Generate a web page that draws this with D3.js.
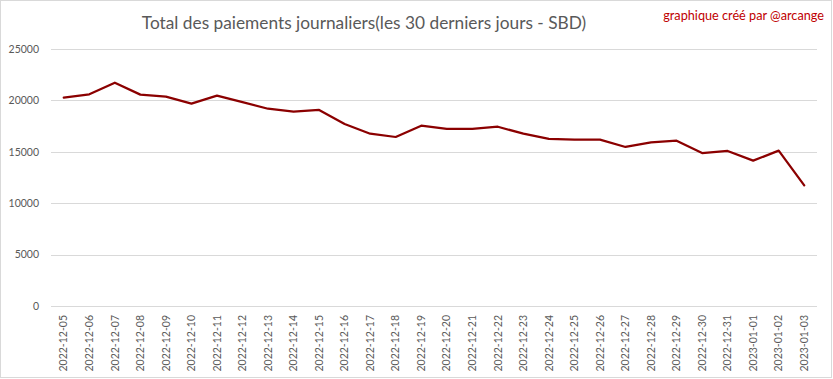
<!DOCTYPE html>
<html>
<head>
<meta charset="utf-8">
<script src="https://cdn.jsdelivr.net/npm/d3@7"></script>
<style>
  body { margin: 0; background: #fff; }
  svg { display: block; }
</style>
</head>
<body>
<div class="chart"></div>
<script>
var dates = ["2022-12-05","2022-12-06","2022-12-07","2022-12-08","2022-12-09","2022-12-10","2022-12-11","2022-12-12","2022-12-13","2022-12-14","2022-12-15","2022-12-16","2022-12-17","2022-12-18","2022-12-19","2022-12-20","2022-12-21","2022-12-22","2022-12-23","2022-12-24","2022-12-25","2022-12-26","2022-12-27","2022-12-28","2022-12-29","2022-12-30","2022-12-31","2023-01-01","2023-01-02","2023-01-03"];
var payouts = [20270,20590,21720,20560,20360,19680,20460,19840,19190,18900,19070,17700,16760,16440,17540,17220,17220,17440,16760,16250,16180,16180,15470,15920,16080,14880,15080,14140,15110,11740];
var yTicks = [0,5000,10000,15000,20000,25000];

var chartWidth = 833;
var chartHeight = 379;
var plotLeft = 51, plotRight = 817, plotTop = 49, plotBottom = 306;

var svg = d3.select(".chart")
  .append("svg")
  .attr("width", chartWidth)
  .attr("height", chartHeight);

// outer frame
svg.append("rect")
  .attr("x", 0.5).attr("y", 0.5)
  .attr("width", chartWidth - 2).attr("height", chartHeight - 2)
  .attr("fill", "#fff")
  .attr("stroke", "#d9d9d9");

var x = d3.scaleBand().domain(dates).range([plotLeft, plotRight]);
var y = d3.scaleLinear().domain([0, 25000]).range([plotBottom, plotTop]);

// gridlines
svg.append("g")
  .selectAll("line")
  .data(yTicks)
  .enter()
  .append("line")
  .attr("x1", plotLeft).attr("x2", plotRight)
  .attr("y1", function(d) { return Math.round(y(d)) + 0.5; })
  .attr("y2", function(d) { return Math.round(y(d)) + 0.5; })
  .attr("stroke", "#d9d9d9")
  .attr("stroke-width", 1);

// y axis labels
var yAxis = svg.append("g")
  .attr("transform", "translate(" + (plotLeft - 12) + ",0)")
  .call(d3.axisLeft(y).tickValues(yTicks).tickSize(0).tickPadding(0).tickFormat(d3.format("d")));
yAxis.select(".domain").remove();
yAxis.selectAll("text")
  .attr("fill", "#595959")
  .style("font-family", "Lato, 'Open Sans', sans-serif")
  .style("font-size", "10.5px");

// x axis labels
var xAxis = svg.append("g")
  .attr("transform", "translate(0," + plotBottom + ")")
  .call(d3.axisBottom(x).tickSize(0).tickPadding(0));
xAxis.select(".domain").remove();
xAxis.selectAll("text")
  .attr("fill", "#595959")
  .style("font-family", "Lato, 'Open Sans', sans-serif")
  .style("font-size", "10.5px")
  .attr("text-anchor", "end")
  .attr("dy", "0.35em")
  .attr("transform", "translate(0,9) rotate(-90)")
  .attr("x", 0).attr("y", 0);

// the line
var line = d3.line()
  .x(function(d, i) { return x(dates[i]) + x.bandwidth() / 2; })
  .y(function(d) { return y(d); });

svg.append("path")
  .datum(payouts)
  .attr("d", line)
  .attr("fill", "none")
  .attr("stroke", "#8b0000")
  .attr("stroke-width", 2.25)
  .attr("stroke-linejoin", "round")
  .attr("stroke-linecap", "round");

// title
svg.append("text")
  .attr("x", 364).attr("y", 29)
  .attr("text-anchor", "middle")
  .attr("fill", "#595959")
  .style("font-family", "Lato, 'Open Sans', sans-serif")
  .style("font-size", "17.3px")
  .text("Total des paiements journaliers(les 30 derniers jours - SBD)");

svg.append("text")
  .attr("x", 824).attr("y", 20)
  .attr("text-anchor", "end")
  .attr("fill", "#c00000")
  .style("font-family", "Lato, 'Open Sans', sans-serif")
  .style("font-size", "12.7px")
  .text("graphique créé par @arcange");
</script>
</body>
</html>
